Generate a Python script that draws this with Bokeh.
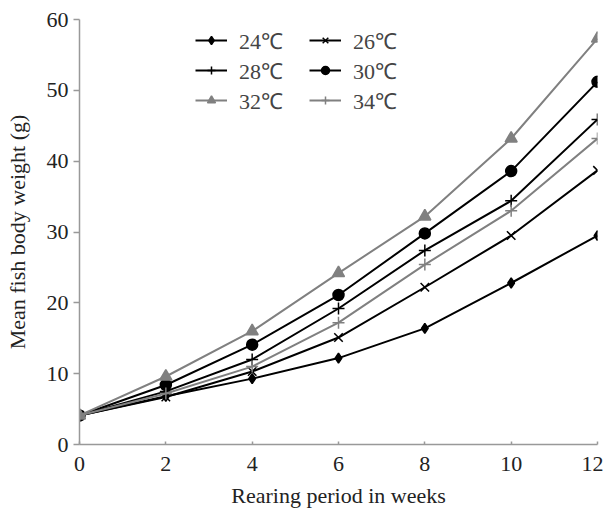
from bokeh.plotting import figure
from bokeh.models import Legend, LegendItem, Range1d, FixedTicker
from bokeh.embed import file_html
from bokeh.resources import INLINE

weeks = [0, 2, 4, 6, 8, 10, 12]
t24 = [4.1, 6.8, 9.3, 12.2, 16.4, 22.8, 29.5]
t26 = [4.1, 6.7, 10.3, 15.1, 22.2, 29.5, 38.7]
t28 = [4.1, 7.5, 12.0, 19.2, 27.4, 34.4, 45.9]
t30 = [4.1, 8.4, 14.1, 21.1, 29.8, 38.6, 51.2]
t32 = [4.1, 9.6, 16.0, 24.2, 32.2, 43.2, 57.3]
t34 = [4.1, 7.2, 11.0, 17.2, 25.4, 33.0, 43.2]
labels = ["24℃", "26℃", "28℃", "30℃", "32℃", "34℃"]

FONT = "Liberation Serif"
BLACK = "#000000"
GRAY = "#808080"

p = figure(width=603, height=510, output_backend="svg", toolbar_location=None,
           x_range=Range1d(0, 12), y_range=Range1d(0, 60),
           frame_width=518, frame_height=425,
           min_border_left=79, min_border_right=6, min_border_top=19, min_border_bottom=10)
p.outline_line_color = None
p.xgrid.visible = False
p.ygrid.visible = False
p.background_fill_color = "white"

series = [t24, t26, t28, t30, t32, t34]
colors = [BLACK, BLACK, BLACK, BLACK, GRAY, GRAY]
markers = ["diamond", "x", "cross", "circle", "triangle", "cross"]
msizes = [10, 12, 12, 11, 12, 12]
items = []
for vals, c, m, s, lab in zip(series, colors, markers, msizes, labels):
    r1 = p.line(weeks, vals, line_color=c, line_width=2)
    r2 = p.scatter(weeks, vals, marker=m, size=s, line_color=c, fill_color=c, line_width=1.5)
    items.append(LegendItem(label=lab, renderers=[r1, r2]))

legend = Legend(items=items, orientation="horizontal", ncols=2,
                location=(116, 329), label_text_font=FONT, label_text_font_size="22px",
                label_text_line_height=0.85,
                glyph_width=32, glyph_height=20, label_height=20, label_width=70,
                spacing=0, padding=0, margin=0,
                border_line_color=None, background_fill_alpha=0, label_standoff=12)
p.add_layout(legend, "center")

for ax in (p.xaxis[0], p.yaxis[0]):
    ax.axis_line_color = "#999999"
    ax.axis_line_width = 1.5
    ax.major_tick_line_color = "#999999"
    ax.major_tick_line_width = 1.5
    ax.minor_tick_line_color = None
    ax.major_label_text_font = FONT
    ax.major_label_text_font_size = "22px"
    ax.major_label_text_color = "#222222"
    ax.axis_label_text_font = FONT
    ax.axis_label_text_font_size = "22px"
    ax.axis_label_text_font_style = "normal"
    ax.axis_label_text_color = "#222222"

p.xaxis.ticker = FixedTicker(ticks=weeks)
p.yaxis.ticker = FixedTicker(ticks=[0, 10, 20, 30, 40, 50, 60])
p.xaxis.major_tick_in = 3
p.xaxis.major_tick_out = 0
p.yaxis.major_tick_in = 0
p.yaxis.major_tick_out = 6
p.xaxis.axis_label = "Rearing period in weeks"
p.yaxis.axis_label = "Mean fish body weight (g)"
p.xaxis.major_label_standoff = 12
p.yaxis.major_label_standoff = 5
p.xaxis.axis_label_standoff = 9
p.yaxis.axis_label_standoff = 14

open("out.html", "w").write(file_html(p, INLINE))
